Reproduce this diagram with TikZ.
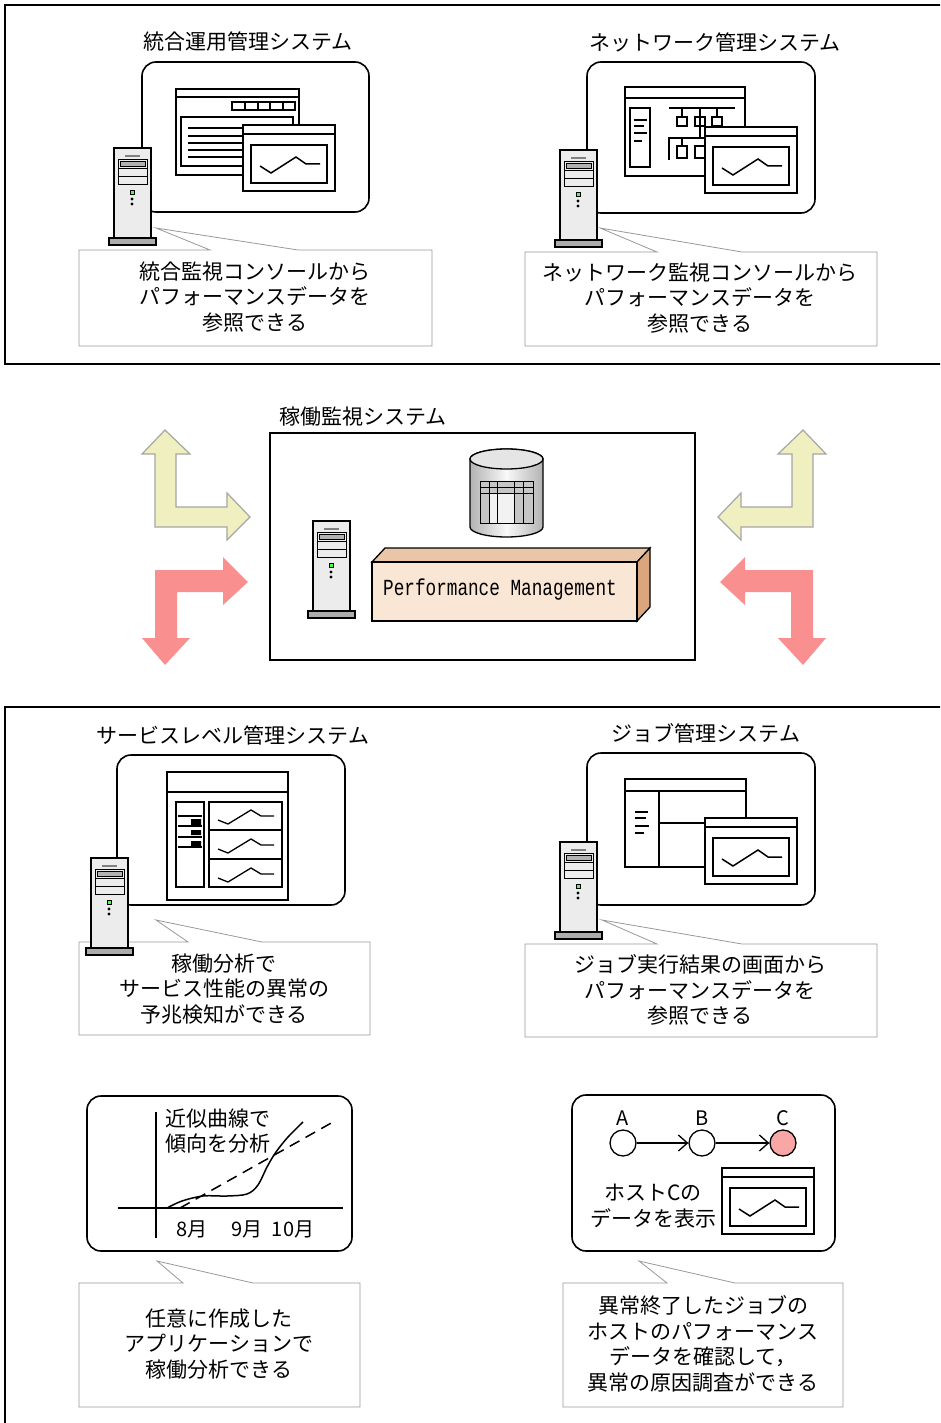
\documentclass[tikz,border=0pt]{standalone}
\usepackage{fontspec}
\setmainfont{Noto Sans CJK JP}
\setmonofont{Liberation Mono}
\usetikzlibrary{arrows.meta}

\definecolor{paleyellow}{HTML}{EFEFC0}
\definecolor{salmon}{HTML}{F98F8F}
\definecolor{alertpink}{HTML}{F9A6A6}
\definecolor{pmfront}{HTML}{FAE6D5}
\definecolor{pmtop}{HTML}{E9C6A8}
\definecolor{pmside}{HTML}{D9A67E}

\tikzstyle{frame} = [draw=black, line width=2pt]
\tikzstyle{bubble} = [draw=black, line width=1.6pt, rounded corners=14pt, fill=white]
\tikzstyle{callout} = [draw=gray!80, line width=0.8pt, fill=white, line join=miter]
\tikzstyle{txt} = [font=\fontsize{21}{25.5}\selectfont, align=center, inner sep=0pt]
\tikzstyle{small} = [font=\fontsize{20}{25}\selectfont, inner sep=0pt]
\tikzstyle{win} = [draw=black, line width=1.5pt, fill=white]
\tikzstyle{trend} = [line width=1.5pt, line join=miter]
\tikzstyle{host} = [circle, draw=black, line width=1.3pt, minimum size=26pt, inner sep=0pt, fill=white]
\tikzstyle{flow} = [line width=1.3pt, -{Straight Barb[length=9pt,width=16pt]}]

\tikzset{
  % tower PC
  server/.pic={
    \draw[line width=1.3pt, fill=gray!15] (0,0) rectangle (37,90);
    \draw[line width=1.3pt, fill=gray!65] (-5,90) rectangle (42,97);
    \draw[gray, line width=1.6pt] (11,8) -- (26,8);
    \draw[line width=0.6pt] (4,11) rectangle (33,20) (4,20) rectangle (33,28) (4,28) rectangle (33,36);
    \draw[fill=gray!60, line width=0.6pt] (6,13) rectangle (31,18);
    \draw[fill=green!70!white, line width=0.5pt] (16,42) rectangle (20,46);
    \fill (18,51) circle (1.6pt) (18,56) circle (1.6pt);
  },
  % window with a line chart
  chartwin/.pic={
    \draw[win] (0,0) rectangle (92,66);
    \draw[line width=1.5pt] (0,9) -- (92,9);
    \draw[line width=1.5pt] (8,20) rectangle (84,58);
    \draw[trend] (17,41) -- (28,48) -- (53,32) -- (63,39) -- (77,39);
  },
  wave/.pic={
    \draw[line width=1.3pt] (0,0) -- (10,4) -- (33,-10) -- (43,-4) -- (56,-4);
  }
}

\begin{document}
\begin{tikzpicture}[x=1pt, y=-1pt]
\clip (0,0) rectangle (940,1423);
\fill[white] (0,0) rectangle (940,1423);

%%% upper group
\draw[frame] (5,5) rectangle (960,364);

% integrated management
\node[txt] (togo) at (248,42) {統合運用管理システム};
\draw[bubble] (142,62) rectangle (369,212);
\draw[win] (176,89) rectangle (299,175);
\draw[line width=1.5pt] (176,97) -- (299,97);
\draw[line width=1.3pt] (232,102) rectangle (295,110);
\foreach \bx in {245,258,270,283} \draw[line width=1.3pt] (\bx,102) -- (\bx,110);
\draw[line width=1.5pt] (181,117) rectangle (293,166);
\foreach \ly in {128,136,143,150,157} \draw[line width=1.3pt] (188,\ly) -- (243,\ly);
\pic at (243,125) {chartwin};
\draw[callout] (79,250) -- (210,250) -- (156,228) -- (298,250) -- (432,250) -- (432,346) -- (79,346) -- cycle;
\pic at (114,148) {server};
\node[txt] (togotext) at (255,297) {統合監視コンソールから\\パフォーマンスデータを\\参照できる};

% network management
\node[txt] (network) at (715,42) {ネットワーク管理システム};
\draw[bubble] (587,62) rectangle (815,213);
\draw[win] (625,87) rectangle (745,176);
\draw[line width=1.5pt] (625,98) -- (745,98);
\draw[line width=1.3pt] (630,108) rectangle (650,167);
\draw[line width=1.2pt] (634,120) -- (647,120) (634,126) -- (644,126) (634,133) -- (647,133) (634,141) -- (642,141);
\draw[line width=1.3pt] (669,108) -- (735,108) (682,108) -- (682,117) (700,108) -- (700,138) (717,108) -- (717,117);
\draw[line width=1.3pt] (677,117) rectangle (687,126) (695,117) rectangle (705,126) (712,117) rectangle (722,126);
\draw[line width=1.3pt] (669,160) -- (669,138) -- (712,138) (682,138) -- (682,146);
\draw[line width=1.3pt] (677,146) rectangle (687,158) (695,146) rectangle (705,158);
\pic at (705,127) {chartwin};
\draw[callout] (525,252) -- (657,252) -- (600,228) -- (742,252) -- (877,252) -- (877,346) -- (525,346) -- cycle;
\pic at (560,150) {server};
\node[txt] (networktext) at (700,298) {ネットワーク監視コンソールから\\パフォーマンスデータを\\参照できる};

%%% operation monitoring in the middle
\node[txt] (kado) at (363,417) {稼働監視システム};
\draw[frame, line width=1.6pt] (270,433) rectangle (695,660);

% database
\draw[line width=1.3pt, left color=gray!60, right color=gray!60, middle color=gray!5]
  (470,459) -- (470,527) arc[start angle=180, end angle=360, x radius=36.5pt, y radius=10pt]
  -- (543,459) arc[start angle=0, end angle=180, x radius=36.5pt, y radius=10pt] -- cycle;
\draw[line width=1.3pt, fill=gray!20] (506.5,459) ellipse [x radius=36.5pt, y radius=10pt];
\draw[line width=1pt, fill=gray!45] (480,481) rectangle (533,523);
\draw[line width=1pt, fill=gray!10] (489,493) rectangle (514,523);
\draw[line width=1pt] (480,487) -- (533,487) (480,493) -- (533,493);
\foreach \cx in {489,497,514,523} \draw[line width=1pt] (\cx,481) -- (\cx,523);

\pic at (313,521) {server};

% Performance Management block
\draw[line width=1.3pt, fill=pmtop, line join=miter] (372,562) -- (385,548) -- (650,548) -- (637,562) -- cycle;
\draw[line width=1.3pt, fill=pmside, line join=miter] (637,562) -- (650,548) -- (650,607) -- (637,621) -- cycle;
\draw[line width=1.3pt, fill=pmfront] (372,562) rectangle (637,621);
\node[inner sep=0pt] (pm) at (500,590) {\scalebox{1}[1.3]{\fontsize{17.7}{20}\selectfont\ttfamily Performance Management}};

% data flow arrows on both sides
\foreach \flip/\off in {1/0, -1/968} {
  \begin{scope}[shift={(\off,0)}, xscale=\flip]
    \draw[fill=paleyellow, draw=gray!70, line width=1.2pt, line join=miter]
      (165,430) -- (190,454) -- (176,454) -- (176,507) -- (227,507) -- (227,493) -- (250,517)
      -- (227,540) -- (227,527) -- (155,527) -- (155,454) -- (142,454) -- cycle;
    \fill[salmon]
      (248,582) -- (223,557) -- (223,570) -- (155,570) -- (155,638) -- (142,638) -- (165,665)
      -- (190,638) -- (177,638) -- (177,592) -- (223,592) -- (223,605) -- cycle;
  \end{scope}
}

%%% lower group
\draw[frame] (5,707) rectangle (960,1450);

% service level management
\node[txt] (service) at (233,735) {サービスレベル管理システム};
\draw[bubble] (117,755) rectangle (345,905);
\draw[win] (167,772) rectangle (288,900);
\draw[line width=1.5pt] (167,792) -- (288,792);
\draw[line width=1.5pt] (176,802) rectangle (204,887);
\foreach \ly in {816,826,837,847} \draw[line width=1.2pt] (178,\ly) -- (202,\ly);
\fill (191,819) rectangle (201,825) (191,830) rectangle (201,835) (191,841) rectangle (201,846);
\draw[line width=1.5pt] (209,802) rectangle (282,830) (209,830) rectangle (282,859) (209,859) rectangle (282,887);
\foreach \wy in {820,849,878} \pic at (218,\wy) {wave};
\draw[callout] (79,942) -- (188,942) -- (156,920) -- (262,942) -- (370,942) -- (370,1035) -- (79,1035) -- cycle;
\pic at (91,858) {server};
\node[txt] (servicetext) at (224,989) {稼働分析で\\サービス性能の異常の\\予兆検知ができる};

% job management
\node[txt] (job) at (706,733) {ジョブ管理システム};
\draw[bubble] (587,753) rectangle (815,905);
\draw[win] (625,779) rectangle (746,867);
\draw[line width=1.5pt] (625,791) -- (746,791) (659,791) -- (659,867) (659,823) -- (746,823);
\draw[line width=1.2pt] (635,812) -- (648,812) (635,818) -- (646,818) (635,826) -- (649,826) (635,833) -- (644,833);
\pic at (705,818) {chartwin};
\draw[callout] (525,944) -- (657,944) -- (602,920) -- (742,944) -- (877,944) -- (877,1037) -- (525,1037) -- cycle;
\pic at (560,842) {server};
\node[txt] (jobtext) at (700,990) {ジョブ実行結果の画面から\\パフォーマンスデータを\\参照できる};

% trend analysis
\draw[bubble] (87,1096) rectangle (352,1251);
\draw[line width=1.5pt] (156,1112) -- (156,1238);
\draw[line width=1.5pt] (118,1208) -- (343,1208);
\draw[trend, dash pattern=on 11pt off 7pt] (180,1208) -- (333,1122);
\draw[trend] plot[smooth, tension=0.55] coordinates {(167,1208) (182,1201) (203,1196) (227,1196) (247,1194) (258,1185) (267,1167) (276,1152) (288,1137) (303,1122)};
\node[txt, anchor=west, align=left] (kinji) at (165,1131) {近似曲線で\\傾向を分析};
\node[small] (aug) at (192,1229) {8月};
\node[small] (sep) at (247,1229) {9月};
\node[small] (oct) at (293,1229) {10月};
\draw[callout] (79,1283) -- (183,1283) -- (157,1261) -- (253,1283) -- (360,1283) -- (360,1407) -- (79,1407) -- cycle;
\node[txt] (apptext) at (219,1344) {任意に作成した\\アプリケーションで\\稼働分析できる};

% job net with the failed host
\draw[bubble] (572,1095) rectangle (835,1251);
\node[host] (a) at (623,1143) {};
\node[host] (b) at (702,1143) {};
\node[host, fill=alertpink] (c) at (783,1143) {};
\node[small] (alabel) at (623,1118) {A};
\node[small] (blabel) at (702,1118) {B};
\node[small] (clabel) at (783,1118) {C};
\draw[flow] (a) -- (b);
\draw[flow] (b) -- (c);
\pic at (722,1168) {chartwin};
\node[txt] (hostc) at (653,1206) {ホストCの\\データを表示};
\draw[callout] (563,1283) -- (667,1283) -- (639,1261) -- (735,1283) -- (843,1283) -- (843,1407) -- (563,1407) -- cycle;
\node[txt] (hosttext) at (703,1344) {異常終了したジョブの\\ホストのパフォーマンス\\データを確認して，\\異常の原因調査ができる};

\end{tikzpicture}
\end{document}
